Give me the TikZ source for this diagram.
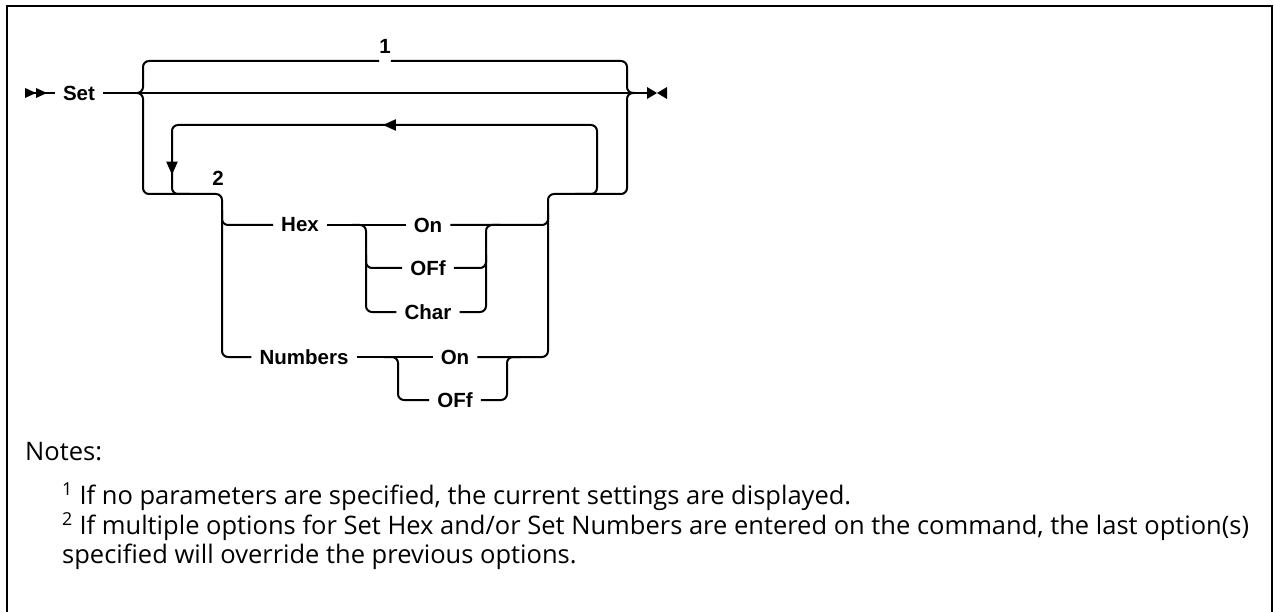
\documentclass[tikz,border=0pt]{standalone}
\usepackage{fontspec}
\newfontfamily\railfont{Liberation Sans}
\newfontfamily\notefont{Open Sans}
\usetikzlibrary{arrows.meta,calc,decorations.markings}

\tikzset{
    rail/.style={line width=2pt, rounded corners=6pt},
    word/.style={font=\railfont\bfseries\fontsize{20.5}{24}\selectfont, inner xsep=8pt, inner ysep=2pt},
    footmark/.style={font=\railfont\bfseries\fontsize{20.5}{24}\selectfont, inner sep=0pt},
    notetext/.style={font=\notefont\fontsize{25.5}{29}\selectfont, anchor=west, align=left, inner sep=0pt},
    looparrows/.style={postaction={decorate}, decoration={markings,
        mark=at position 300pt with {\arrow{Triangle[length=13pt,width=11pt]}},
        mark=at position 558pt with {\arrow{Triangle[length=13pt,width=11pt]}}}},
}

\begin{document}
\begin{tikzpicture}[x=1pt, y=-1pt]
    \useasboundingbox (0,0) rectangle (1274,612);
    \draw[line width=2.5pt] (7,620) -- (7,6) -- (1272,6) -- (1272,620);

    \node[word] (set) at (79,93) {Set};
    \node[word] (hex) at (300,225) {Hex};
    \node[word] (hexon) at (428,225) {On};
    \node[word] (hexoff) at (428,268) {OFf};
    \node[word] (hexchar) at (428,312) {Char};
    \node[word] (numbers) at (304,357) {Numbers};
    \node[word] (numon) at (455,357) {On};
    \node[word] (numoff) at (455,400) {OFf};
    \node[footmark] (n1) at (385,46) {1};
    \node[footmark] (n2) at (218,178) {2};

    \coordinate (start) at (25,93);
    \coordinate (stop) at (647,93);
    \coordinate (lin) at (137,93);
    \coordinate (rb) at (627,93);
    \coordinate (rout) at (634,93);
    \coordinate (topl) at (143,61);
    \coordinate (topr) at (627,61);
    \coordinate (botl) at (143,194);
    \coordinate (botr) at (627,194);
    \coordinate (grpl) at (222,194);
    \coordinate (grpr) at (548,194);
    \coordinate (loopl) at (172,125);
    \coordinate (loopr) at (597,125);
    \coordinate (hexl) at (366,225);
    \coordinate (hexr) at (486,225);
    \coordinate (numl) at (398,357);
    \coordinate (numr) at (507,357);

    \fill (start) ++(0,-5) -- ++(11,5) -- ++(-11,5) -- cycle;
    \fill (start) ++(11,-5) -- ++(11,5) -- ++(-11,5) -- cycle;
    \draw[rail] (start) -- (set.west);
    \draw[rail] (set.east) -- (stop);
    \fill (stop) ++(0,-6) -- ++(10,6) -- ++(-10,6) -- cycle;
    \fill (stop) ++(20,-6) -- ++(-10,6) -- ++(10,6) -- cycle;

    \draw[rail] (lin) -| (topl) -- (n1.west |- topl);
    \draw[rail] (n1.east |- topl) -| (rb) -- (rout);
    \draw[rail] (lin) -| (botl) -| (grpl |- hex) -- (hex.west);
    \draw[rail] ($(grpl)+(0,16)$) |- (numbers.west);
    \draw[rail, looparrows] ($(loopr |- botr)+(-22,0)$) -| (loopr) -- (loopl) |- ($(loopl |- botr)+(18,0)$);

    \draw[rail] (hex.east) -- (hexon.west);
    \draw[rail] ($(hexl)+(-14,0)$) -| (hexl |- hexchar) -- (hexchar.west);
    \draw[rail] ($(hexl)+(0,30)$) |- (hexoff.west);
    \draw[rail] (hexchar.east) -| (hexr) -- ++(14,0);
    \draw[rail] (hexoff.east) -| ($(hexr)+(0,30)$);
    \draw[rail] (hexon.east) -| (grpr) -- (botr) -- (rb) -- (rout);

    \draw[rail] (numbers.east) -- (numon.west);
    \draw[rail] ($(numl)+(-14,0)$) -| (numl |- numoff) -- (numoff.west);
    \draw[rail] (numoff.east) -| (numr) -- ++(14,0);
    \draw[rail] (numon.east) -| ($(grpr)+(0,20)$);

    \node[notetext] (notes) at (25,452) {Notes:};
    \node[notetext] (note1) at (62,497) {\textsuperscript{1} If no parameters are specified, the current settings are displayed.};
    \node[notetext] (note2) at (62,541) {\textsuperscript{2} If multiple options for Set Hex and/or Set Numbers are entered on the command, the last option(s)\\specified will override the previous options.};
\end{tikzpicture}
\end{document}
